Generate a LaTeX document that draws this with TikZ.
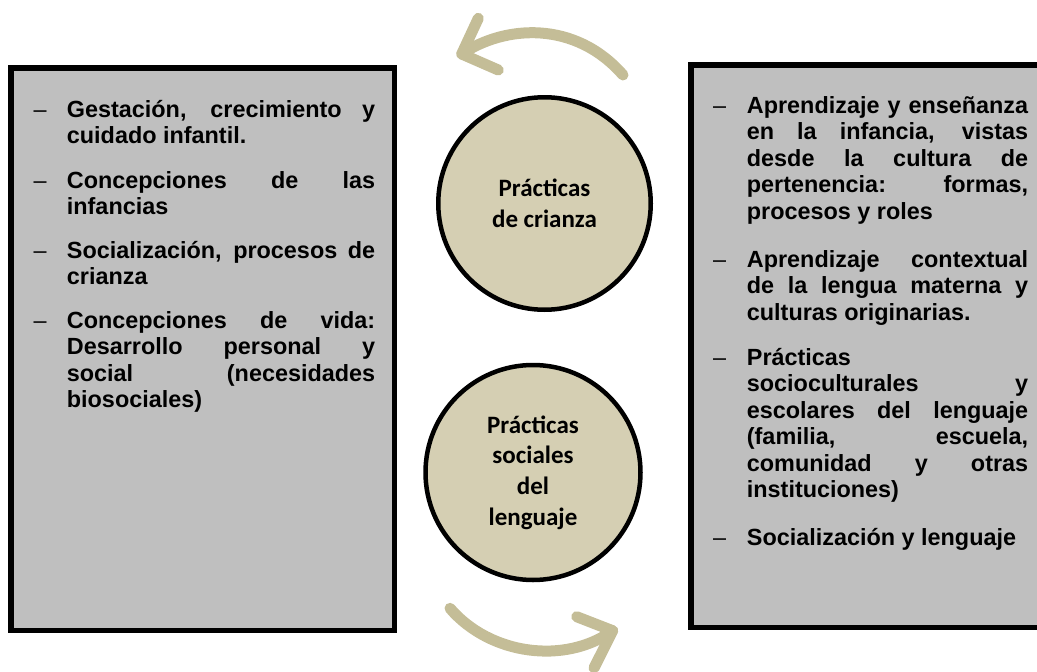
\documentclass[tikz,border=0pt]{standalone}
\usepackage{fontspec}
\setmainfont{Liberation Sans}
\newfontfamily\circfont{Carlito}
\usepackage{tikz}

\definecolor{boxgray}{HTML}{BFBFBF}
\definecolor{circtan}{HTML}{D5CFB3}
\definecolor{arrowtan}{HTML}{C4BD97}

\newlength{\dashw}
\newcommand{\dashitem}[1]{\noindent\hangindent=\dashw\hangafter=1\makebox[\dashw][l]{\mdseries --}#1\par}
\newcommand{\listgap}[1]{\vspace{#1}}
\hyphenpenalty=10000
\exhyphenpenalty=10000

\tikzset{
  listtext/.style={anchor=base west, inner sep=0pt, align=justify, font=\bfseries\fontsize{23.4}{26.5}\selectfont},
  practice/.style={circle, draw, line width=4.5pt, fill=circtan, inner sep=0pt, align=center, font=\circfont\bfseries\fontsize{25}{30.7}\selectfont},
  turn/.style={draw=arrowtan, line width=11pt, line cap=round, line join=round}
}

\begin{document}
\begin{tikzpicture}[x=1pt,y=-1pt]
\useasboundingbox (0,0) rectangle (1037,672);
\clip (0,0) rectangle (1037,672);

% side boxes
\draw[line width=5.5pt, fill=boxgray] (10.75,67.75) rectangle (394.25,630.25);
\draw[line width=5.5pt, fill=boxgray] (690.75,64.75) rectangle (1060,627.25);

% left list
\node[listtext, text width=341.7pt] (crianzalist) at (33.3,117.3) {\setlength{\dashw}{33.4pt}%
\dashitem{Gestación, crecimiento y\linebreak cuidado infantil.}\listgap{18pt}%
\dashitem{Concepciones de las\linebreak infancias}\listgap{17pt}%
\dashitem{Socialización, procesos de\linebreak crianza}\listgap{17pt}%
\dashitem{Concepciones de vida:\linebreak Desarrollo personal y\linebreak social (necesidades\linebreak biosociales)}};

% right list
\node[listtext, text width=315pt] (lenguajelist) at (713,113.3) {\setlength{\dashw}{33.7pt}%
\dashitem{Aprendizaje y enseñanza\linebreak en la infancia, vistas\linebreak desde la cultura de\linebreak pertenencia: formas,\linebreak procesos y roles}\listgap{21.5pt}%
\dashitem{Aprendizaje contextual\linebreak de la lengua materna y\linebreak culturas originarias.}\listgap{18.5pt}%
\dashitem{Prácticas\\ socioculturales y\linebreak escolares del lenguaje\linebreak (familia, escuela,\linebreak comunidad y otras\linebreak instituciones)}\listgap{21.5pt}%
\dashitem{Socialización y lenguaje}};

% circles
\node[practice, minimum size=212.5pt] (crianza) at (544.5,203.5) {Prácticas\\de crianza};
\node[practice, minimum size=215pt] (lenguaje) at (533,472.5) {Prácticas\\sociales\\del\\lenguaje};

% turning arrows
\coordinate (toptail) at (623,75);
\coordinate (toptip) at (461.7,54);
\draw[turn] (toptail) .. controls (575,20) and (505,25) .. (toptip);
\draw[turn] (478.3,18.3) -- (toptip) -- (498.3,70);

\coordinate (bottail) at (450,608.3);
\coordinate (bottip) at (612.7,630.7);
\draw[turn] (bottail) .. controls (490,655) and (565,665) .. (bottip);
\draw[turn] (576.7,616.7) -- (bottip) -- (594,668);
\end{tikzpicture}
\end{document}
